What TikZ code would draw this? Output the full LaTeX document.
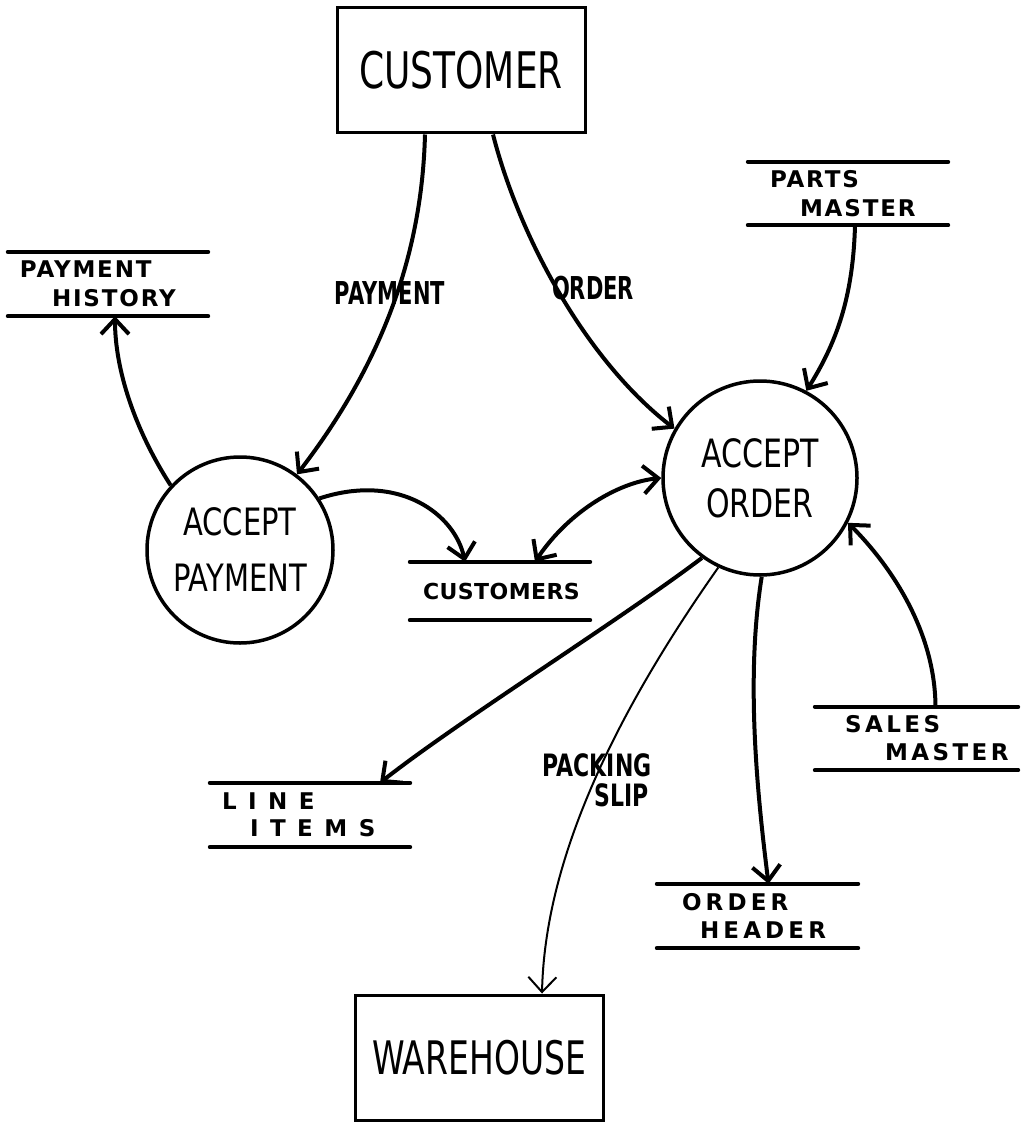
\documentclass[tikz,border=0pt]{standalone}
\usepackage{fontspec}
\setmainfont{DejaVu Sans}
\usetikzlibrary{arrows.meta,calc}
% vertically stretched lettering
\newcommand{\tallx}[2][1.3]{\scalebox{1}[#1]{#2}}
\tikzset{barb/.tip={Straight Barb[length=15pt,width=28pt]}}

\begin{document}
\begin{tikzpicture}[x=1pt,y=-1pt,
  ent/.style={draw, line width=3pt, minimum width=248pt, minimum height=125pt, inner sep=0pt},
  proc/.style={draw, circle, line width=3.5pt, inner sep=0pt, align=center},
  storeline/.style={-, line width=4pt, line cap=round},
  store/.style={inner sep=0pt, align=left, minimum height=63pt,
    font=\bfseries\fontsize{23}{29}\selectfont\addfontfeatures{LetterSpace=8},
    append after command={(\tikzlastnode.north west) edge[storeline] (\tikzlastnode.north east)
                          (\tikzlastnode.south west) edge[storeline] (\tikzlastnode.south east)}},
  flow/.style={line width=4pt, -barb},
  flowlabel/.style={font=\bfseries\fontsize{21}{30}\selectfont, inner sep=0pt, align=left}
]
\useasboundingbox (0,0) rectangle (1024,1123);

% external entities
\node[ent, font=\fontsize{36}{40}\selectfont] (cust) at (461,70.5) {\tallx[1.4]{CUSTOMER}};
\node[ent, font=\fontsize{33}{40}\selectfont] (wh) at (479,1057.5) {\tallx[1.4]{WAREHOUSE}};

% processes
\node[proc, minimum size=194pt, font=\fontsize{30}{50}\selectfont] (ao) at (760,478)
  {\tallx{ACCEPT}\\\tallx{ORDER}};
\node[proc, minimum size=186pt, font=\fontsize{29}{56}\selectfont] (ap) at (240,550)
  {\tallx{ACCEPT}\\\tallx{PAYMENT}};

% data stores
\node[store, text width=200pt] (pm) at (848,193.5) {\hspace*{22pt}PARTS\\\hspace*{52pt}MASTER};
\node[store, text width=200pt, minimum height=64pt] (ph) at (108,284) {\hspace*{12pt}PAYMENT\\\hspace*{44pt}HISTORY};
\node[store, text width=180pt, minimum height=58pt,
      font=\bfseries\fontsize{22}{29}\selectfont\addfontfeatures{LetterSpace=2}] (cs) at (500,591) {\hspace*{13pt}CUSTOMERS};
\node[store, text width=203pt,
      font=\bfseries\fontsize{23}{28}\selectfont\addfontfeatures{LetterSpace=15}] (sm) at (916.5,738.5) {\hspace*{30pt}SALES\\\hspace*{70pt}MASTER};
\node[store, text width=200pt, minimum height=64pt,
      font=\bfseries\fontsize{23}{27}\selectfont\addfontfeatures{LetterSpace=50}] (li) at (310,815) {\hspace*{12pt}LINE\\\hspace*{40pt}ITEMS};
\node[store, text width=201pt, minimum height=64pt,
      font=\bfseries\fontsize{23}{28}\selectfont\addfontfeatures{LetterSpace=18}] (oh) at (757.5,916) {\hspace*{25pt}ORDER\\\hspace*{43pt}HEADER};

% flow labels
\node[flowlabel] (lpay) at (390,293) {\tallx[1.5]{PAYMENT}};
\node[flowlabel] (lord) at (593,288) {\tallx[1.5]{ORDER}};
\node[flowlabel, font=\bfseries\fontsize{22}{30}\selectfont] (lpack) at (597,780) {\tallx[1.4]{PACKING}\\\hspace*{52pt}\tallx[1.4]{SLIP}};

% data flows
\draw[flow] ([xshift=-36pt]cust.south) .. controls (422,250) and (385,360) .. (ap.53);
\draw[flow] ([xshift=32pt]cust.south) .. controls (520,240) and (588,362) .. (ao.150);
\draw[flow] ([xshift=7pt]pm.south) .. controls (853,300) and (835,345) .. (ao.62);
\draw[flow] (ap.137) .. controls (135,430) and (115,370) .. ([xshift=7pt]ph.south);
\draw[flow] (ap.33) .. controls (400,472) and (455,515) .. ([xshift=-35pt]cs.north);
\draw[flow, barb-barb] ([xshift=35pt]cs.north) .. controls (570,510) and (620,482) .. (ao.180);
\draw[flow] (ao.-126) .. controls (620,620) and (460,720) .. ([xshift=70pt]li.north);
\draw[flow, line width=2pt] (ao.-115) .. controls (625,700) and (545,850) .. ([xshift=63pt]wh.north);
\draw[flow] (ao.-89) .. controls (745,680) and (758,800) .. ([xshift=11pt]oh.north);
\draw[flow] ([xshift=19pt]sm.north) .. controls (935,630) and (890,565) .. (ao.-27);
\end{tikzpicture}
\end{document}
